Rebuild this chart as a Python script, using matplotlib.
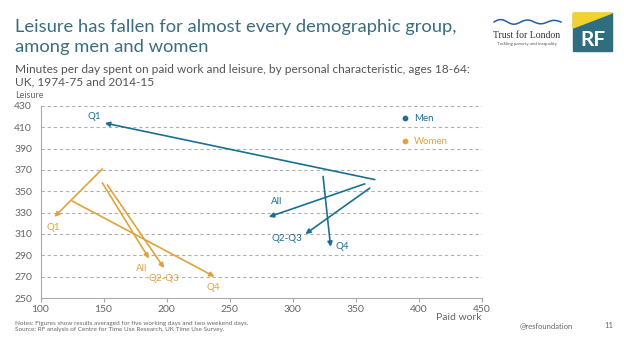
import numpy as np
import matplotlib.pyplot as plt
from matplotlib.patches import Polygon, Rectangle

plt.rcParams['font.family'] = ['Lato', 'DejaVu Sans']

# arrows: (label, start work, start leisure, end work, end leisure)
men_labels = ['Q1', 'All', 'Q2-Q3', 'Q4']
men_start_x = [365, 357, 361, 324]
men_start_y = [361, 357, 353, 364]
men_end_x = [151, 281, 310, 330]
men_end_y = [414, 326, 310, 298]
men_lab_x = [143, 287, 295, 339]
men_lab_y = [420, 340, 306, 298]

women_labels = ['Q1', 'All', 'Q2-Q3', 'Q4']
women_start_x = [149, 149, 153, 125]
women_start_y = [371, 358, 356, 341]
women_end_x = [111, 186, 198, 238]
women_end_y = [326, 287, 278, 270]
women_lab_x = [110, 180, 198, 237]
women_lab_y = [316, 278, 268, 260]

x_ticks = [100, 150, 200, 250, 300, 350, 400, 450]
y_ticks = [250, 270, 290, 310, 330, 350, 370, 390, 410, 430]

MEN = '#1b6f94'
WOMEN = '#e0a33c'
TITLE = '#3b6d7e'
GREY = '#666666'

W, H = 624, 351
fig = plt.figure(figsize=(W / 100, H / 100), dpi=100)


def px(x, y):
    return x / W, 1 - y / H


ax = fig.add_axes([40.5 / W, 1 - 298 / H, (482 - 40.5) / W, (298 - 106) / H])
ax.set_xlim(100, 450)
ax.set_ylim(250, 430)
ax.set_xticks(x_ticks)
ax.set_yticks(y_ticks)
for y in y_ticks[1:]:
    ax.axhline(y, color='#b0b0b0', lw=0.8, ls=(0, (3, 2.5)), zorder=0)
for s in ['top', 'right']:
    ax.spines[s].set_visible(False)
for s in ['left', 'bottom']:
    ax.spines[s].set_color('#aaaaaa')
    ax.spines[s].set_linewidth(0.8)
ax.tick_params(axis='x', colors='#aaaaaa', labelcolor=GREY, labelsize=7.5, length=3, width=0.8, pad=2)
ax.tick_params(axis='y', length=0, labelcolor=GREY, labelsize=7.5, pad=6)

for sx, sy, ex, ey, c in zip(men_start_x + women_start_x, men_start_y + women_start_y,
                             men_end_x + women_end_x, men_end_y + women_end_y,
                             [MEN] * 4 + [WOMEN] * 4):
    ax.annotate('', xy=(ex, ey), xytext=(sx, sy),
                arrowprops=dict(arrowstyle='-|>', color=c, lw=1.2,
                                mutation_scale=7, shrinkA=0, shrinkB=0))

for t, x, y in zip(men_labels, men_lab_x, men_lab_y):
    ax.text(x, y, t, color=MEN, fontsize=7, ha='center', va='center')
for t, x, y in zip(women_labels, women_lab_x, women_lab_y):
    ax.text(x, y, t, color=WOMEN, fontsize=7, ha='center', va='center')

# legend
ax.scatter([389], [418.5], s=10, color=MEN, zorder=3)
ax.scatter([389], [397], s=10, color=WOMEN, zorder=3)
ax.text(396, 418.5, 'Men', color=MEN, fontsize=7, va='center')
ax.text(396, 397, 'Women', color=WOMEN, fontsize=7, va='center')

# titles
fig.text(*px(15, 32), 'Leisure has fallen for almost every demographic group,',
         color=TITLE, fontsize=13.2, va='baseline')
fig.text(*px(15, 52), 'among men and women', color=TITLE, fontsize=13.2, va='baseline')
fig.text(*px(15, 73), 'Minutes per day spent on paid work and leisure, by personal characteristic, ages 18-64:',
         color='#555555', fontsize=8.6, va='baseline')
fig.text(*px(15, 85), 'UK, 1974-75 and 2014-15', color='#555555', fontsize=8.6, va='baseline')
fig.text(*px(15, 95), 'Leisure', color=GREY, fontsize=6.5, va='center')
fig.text(*px(482, 317), 'Paid work', color=GREY, fontsize=7.5, ha='right', va='center')

# footer
fig.text(*px(15, 323), 'Notes: Figures show results averaged for five working days and two weekend days.',
         color=GREY, fontsize=4.6, va='center')
fig.text(*px(15, 330), 'Source: RF analysis of Centre for Time Use Research, UK Time Use Survey.',
         color=GREY, fontsize=4.6, va='center')
fig.text(*px(520, 326), '@resfoundation', color=GREY, fontsize=5.5, va='center')
fig.text(*px(604, 326), '11', color=GREY, fontsize=5.5, va='center')

# logos
fig.patches.append(Rectangle(px(573, 51), 39 / W, 38 / H, transform=fig.transFigure,
                             color='#2f6e7e', zorder=1))
fig.patches.append(Polygon([px(573, 13), px(612, 13), px(573, 28)], closed=True,
                           transform=fig.transFigure, color='#f2d230', zorder=2))
fig.text(*px(593, 40), 'RF', color='white', fontsize=15, fontweight='bold',
         ha='center', va='center', zorder=3)
wx = np.linspace(494, 561, 80)
wy = 22 - 2.5 * np.sin((wx - 494) / 67 * 2 * np.pi * 2.5) * np.linspace(1, 0.6, 80)
fig.add_artist(plt.Line2D(wx / W, 1 - wy / H, color='#1f5fa8', lw=1.1))
fig.text(*px(527, 35), 'Trust for London', family=['Liberation Serif'], color='#333333',
         fontsize=7, ha='center', va='center')
fig.text(*px(527, 44), 'Tackling poverty and inequality', color='#555555', fontsize=3.2,
         ha='center', va='center')

fig.savefig('out.png', dpi=100)
